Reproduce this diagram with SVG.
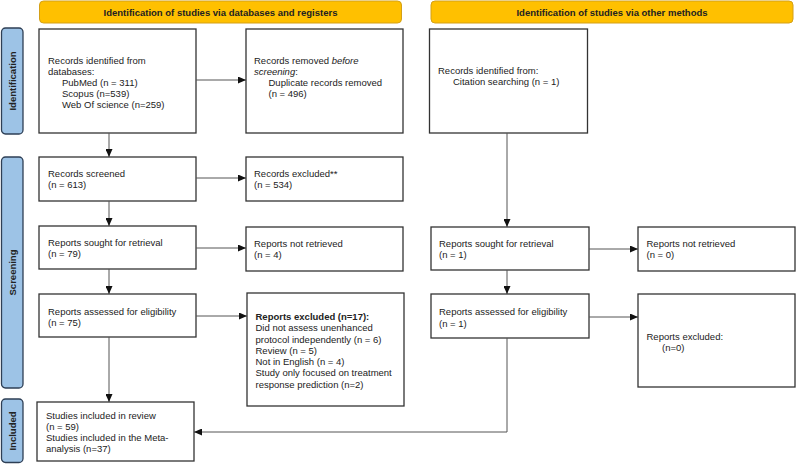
<svg xmlns="http://www.w3.org/2000/svg" width="796" height="464" viewBox="0 0 796 464">
<style>
.bx{fill:#fff;stroke:#333;stroke-width:1.3}
.hd{fill:#FFC000;stroke:#D4A017;stroke-width:1}
.sb{fill:#9DC3E6;stroke:#2E3F55;stroke-width:1.3}
text{font-family:"Liberation Sans",Arial,sans-serif;font-size:9.5px;fill:#222}
.b{font-weight:bold}
.c{text-anchor:middle}
.ln{fill:none;stroke:#555;stroke-width:1}
</style>
<defs>
<marker id="ah" markerUnits="userSpaceOnUse" markerWidth="8" markerHeight="7" refX="8" refY="3.5" orient="auto">
<path d="M0,0 L8,3.5 L0,7 z" fill="#111"/>
</marker>
</defs>
<g id="header-db"><rect class="hd" x="39.5" y="1" width="362" height="22" rx="4"/><text class="b c" x="220.5" y="15.5">Identification of studies via databases and registers</text></g>
<g id="header-other"><rect class="hd" x="431" y="1" width="362" height="22" rx="4"/><text class="b c" x="612" y="15.5">Identification of studies via other methods</text></g>
<g id="side-identification"><rect class="sb" x="1.5" y="28" width="21.5" height="106" rx="4"/><text class="b c" transform="translate(16,81) rotate(-90)">Identification</text></g>
<g id="side-screening"><rect class="sb" x="1.5" y="157" width="21.5" height="231" rx="4"/><text class="b c" transform="translate(16,272.5) rotate(-90)">Screening</text></g>
<g id="side-included"><rect class="sb" x="1.5" y="399" width="21.5" height="63.5" rx="4"/><text class="b c" transform="translate(16,431) rotate(-90)">Included</text></g>
<g id="n-records-db"><rect class="bx" x="39" y="29" width="157" height="104"/><text x="48" y="63.5">Records identified from</text><text x="48" y="74.5">databases:</text><text x="62" y="85.5">PubMed (n = 311)</text><text x="62" y="96.5">Scopus (n=539)</text><text x="62" y="107.5">Web Of science (n=259)</text></g>
<g id="n-removed"><rect class="bx" x="246" y="29" width="157" height="104"/><text x="254" y="63.5">Records removed <tspan font-style="italic">before</tspan></text><text x="254" y="74.5"><tspan font-style="italic">screening</tspan>:</text><text x="268.5" y="85.5">Duplicate records removed</text><text x="268.5" y="96.5">(n = 496)</text></g>
<g id="n-citation"><rect class="bx" x="429.5" y="29" width="158" height="104"/><text x="438" y="74">Records identified from:</text><text x="453" y="85">Citation searching (n = 1)</text></g>
<g id="n-screened"><rect class="bx" x="39" y="157" width="157" height="44"/><text x="48" y="177">Records screened</text><text x="48" y="188">(n = 613)</text></g>
<g id="n-excluded"><rect class="bx" x="246" y="157" width="157" height="44"/><text x="254" y="177">Records excluded**</text><text x="254" y="188">(n = 534)</text></g>
<g id="n-sought-db"><rect class="bx" x="39" y="226" width="157" height="43"/><text x="48" y="246">Reports sought for retrieval</text><text x="48" y="257">(n = 79)</text></g>
<g id="n-notretrieved-db"><rect class="bx" x="246" y="227" width="157" height="44"/><text x="254" y="247">Reports not retrieved</text><text x="254" y="258">(n = 4)</text></g>
<g id="n-sought-other"><rect class="bx" x="431" y="227" width="158" height="43"/><text x="439" y="247">Reports sought for retrieval</text><text x="439" y="258">(n = 1)</text></g>
<g id="n-notretrieved-other"><rect class="bx" x="638" y="227" width="157" height="44"/><text x="646.5" y="247">Reports not retrieved</text><text x="646.5" y="258">(n = 0)</text></g>
<g id="n-assessed-db"><rect class="bx" x="39" y="294" width="157" height="43"/><text x="48" y="314.5">Reports assessed for eligibility</text><text x="48" y="326">(n = 75)</text></g>
<g id="n-reports-excluded-db"><rect class="bx" x="247" y="293" width="157" height="113"/><text class="b" x="255.5" y="319.5">Reports excluded (n=17):</text><text x="255.5" y="331">Did not assess unenhanced</text><text x="255.5" y="342.5">protocol independently (n = 6)</text><text x="255.5" y="353.5">Review (n = 5)</text><text x="255.5" y="364.5">Not in English (n = 4)</text><text x="255.5" y="376">Study only focused on treatment</text><text x="255.5" y="387.5">response prediction (n=2)</text></g>
<g id="n-assessed-other"><rect class="bx" x="431" y="294" width="158" height="44"/><text x="439" y="315">Reports assessed for eligibility</text><text x="439" y="326.5">(n = 1)</text></g>
<g id="n-reports-excluded-other"><rect class="bx" x="638" y="294" width="157" height="93"/><text x="646.5" y="339.5">Reports excluded:</text><text x="662" y="351">(n=0)</text></g>
<g id="n-included"><rect class="bx" x="37" y="402" width="157" height="59"/><text x="46" y="418.5">Studies included in review</text><text x="46" y="429.5">(n = 59)</text><text x="46" y="440.5">Studies included in the Meta-</text><text x="46" y="451.5">analysis (n=37)</text></g>
<g id="connectors">
<path class="ln" d="M196 80 H246" marker-end="url(#ah)"/>
<path class="ln" d="M109 133 V157" marker-end="url(#ah)"/>
<path class="ln" d="M196 178 H246" marker-end="url(#ah)"/>
<path class="ln" d="M109 201 V226" marker-end="url(#ah)"/>
<path class="ln" d="M196 248 H246" marker-end="url(#ah)"/>
<path class="ln" d="M109 269 V294" marker-end="url(#ah)"/>
<path class="ln" d="M196 316 H247" marker-end="url(#ah)"/>
<path class="ln" d="M109 337 V402" marker-end="url(#ah)"/>
<path class="ln" d="M507 133 V227" marker-end="url(#ah)"/>
<path class="ln" d="M589 249 H638" marker-end="url(#ah)"/>
<path class="ln" d="M507 270 V294" marker-end="url(#ah)"/>
<path class="ln" d="M589 317 H638" marker-end="url(#ah)"/>
<path class="ln" d="M507 338 V432 H194" marker-end="url(#ah)"/>
</g>
</svg>
